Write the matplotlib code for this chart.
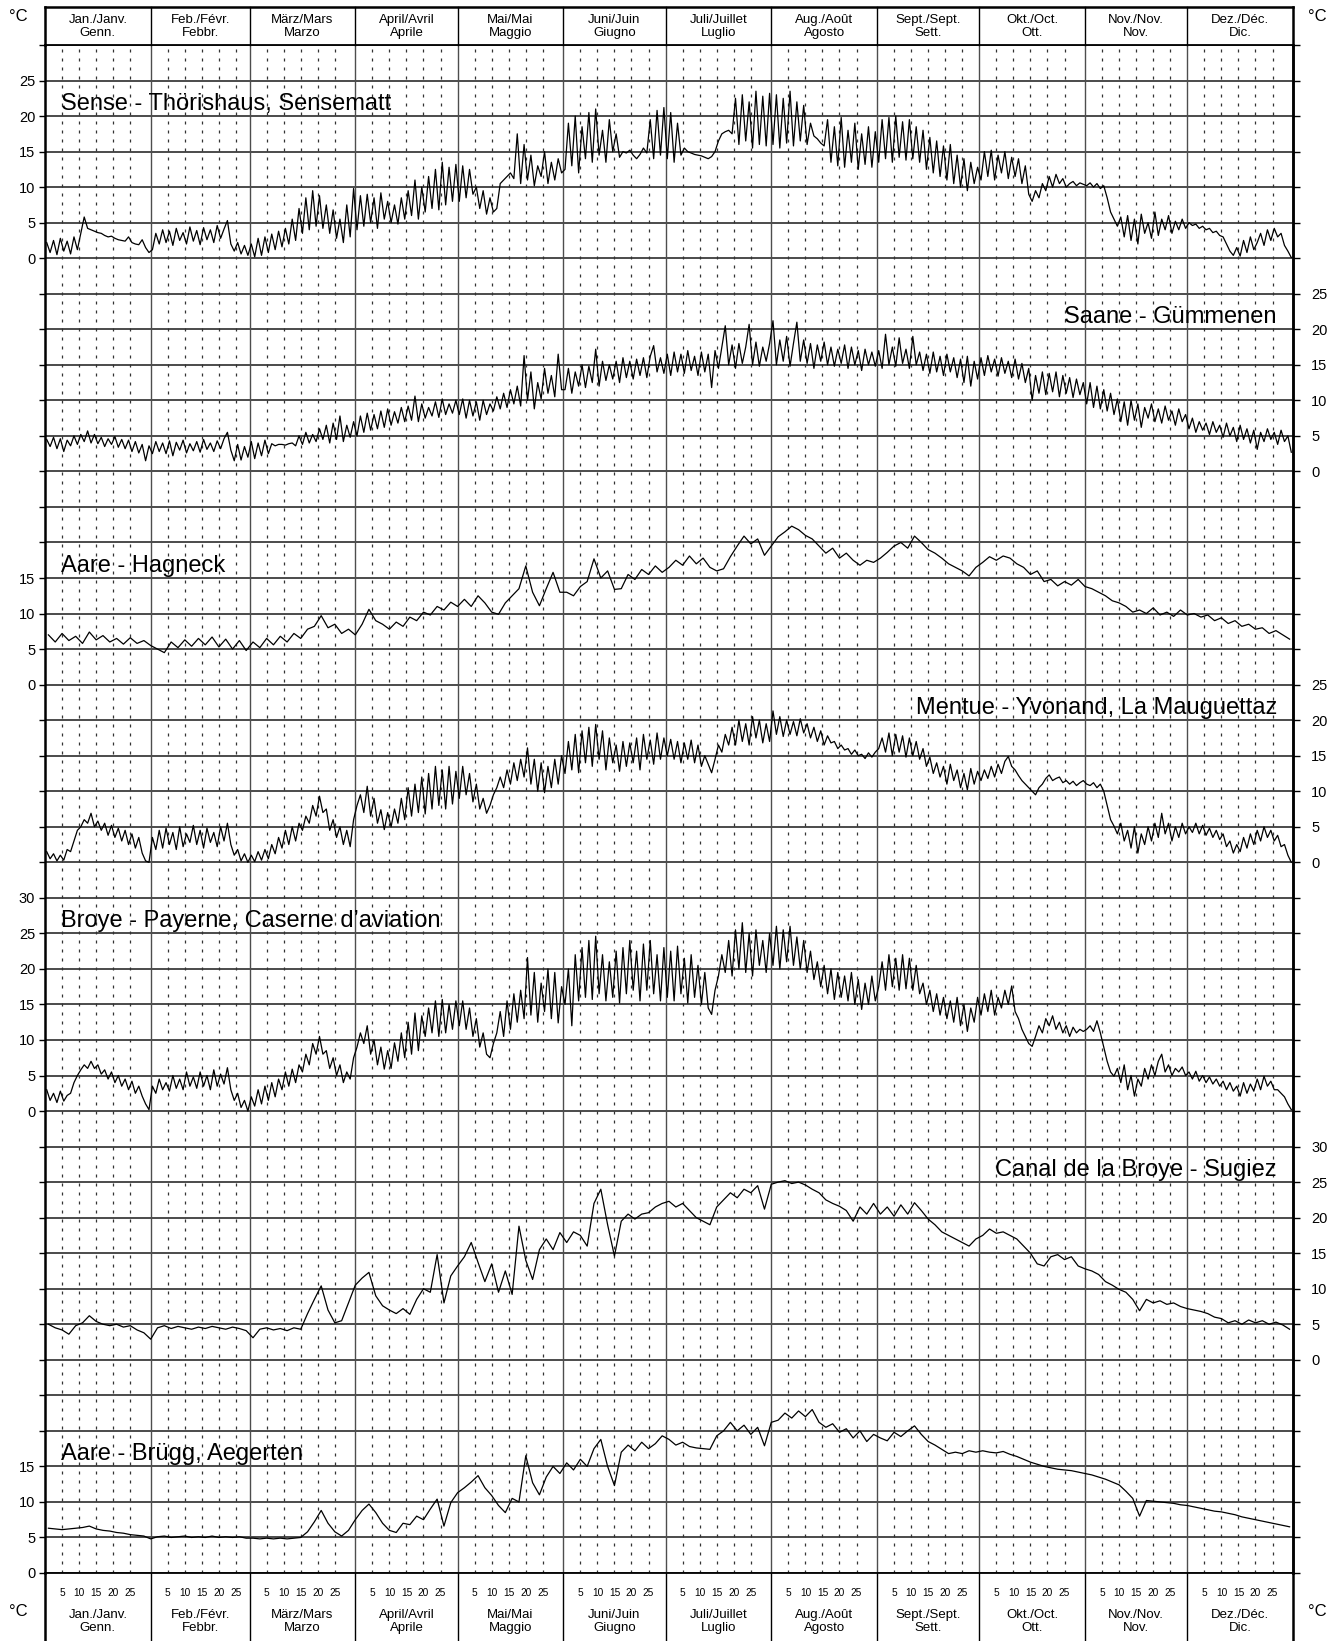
import numpy as np
import matplotlib
matplotlib.use("Agg")
import matplotlib.pyplot as plt
import matplotlib.transforms as mtransforms

plt.rcParams['font.family'] = ['Liberation Sans', 'DejaVu Sans']

# Monate (Schaltjahr)
month_days = [31, 29, 31, 30, 31, 30, 31, 31, 30, 31, 30, 31]
month_labels = ["Jan./Janv.\nGenn.", "Feb./Févr.\nFebbr.", "März/Mars\nMarzo",
                "April/Avril\nAprile", "Mai/Mai\nMaggio", "Juni/Juin\nGiugno",
                "Juli/Juillet\nLuglio", "Aug./Août\nAgosto", "Sept./Sept.\nSett.",
                "Okt./Oct.\nOtt.", "Nov./Nov.\nNov.", "Dez./Déc.\nDic."]
day_ticks = [5, 10, 15, 20, 25]

# Tageswerte (abwechselnd Tief/Hoch), 1 Wert pro Tag
sense = [
    2.2, 0.8, 2.5, 0.5, 2.8, 1.0, 2.4, 0.6, 3.0, 1.2, 3.5,
    5.8, 4.2, 4.0, 3.8, 3.6, 3.5, 3.2, 3.0, 3.1, 2.8, 2.6, 2.5, 2.4, 3.0, 2.2, 2.0, 1.9, 2.6, 1.5, 0.8,
    1.2, 3.5, 2.0, 4.0, 2.2, 3.8, 1.8, 4.2, 2.5, 3.6, 2.0, 4.4, 2.4, 3.9, 1.9,
    4.3, 2.6, 4.0, 2.2, 4.6, 2.8, 4.1, 5.3, 2.0, 1.0, 2.2, 0.6, 1.8, 0.4,
    2.0, 0.2, 2.8, 0.4, 3.0, 0.8, 3.4, 1.2, 3.8, 1.6, 4.2, 2.0, 5.5, 2.5, 7.0, 3.5,
    8.5, 4.0, 9.5, 4.5, 8.8, 4.2, 7.5, 3.5, 6.8, 2.8, 5.5, 2.2, 7.5, 3.0, 9.8,
    4.0, 8.8, 4.5, 9.0, 5.0, 8.5, 4.2, 9.2, 5.5, 8.0, 5.0, 7.5, 4.8, 8.5, 5.5,
    9.5, 6.0, 11.0, 5.5, 10.0, 6.5, 11.5, 7.0, 12.5, 6.8, 13.5, 7.5, 12.8, 8.0, 13.2,
    8.0, 13.0, 8.5, 12.5, 9.0, 10.0, 7.0, 9.5, 6.2, 8.5, 6.5, 7.0, 10.5, 11.0, 11.5, 12.0,
    11.2, 17.5, 10.5, 16.0, 11.0, 14.5, 10.2, 13.0, 11.5, 15.0, 10.5, 13.5, 11.0, 14.0, 12.0,
    12.5, 19.0, 13.0, 20.0, 12.0, 18.5, 14.0, 20.5, 13.5, 21.0, 14.5, 18.0, 13.5, 19.5, 15.0,
    17.5, 14.2, 15.0, 14.8, 15.2, 14.5, 14.0, 14.6, 15.5, 14.8, 19.5, 14.0, 20.8, 14.5, 21.2,
    14.0, 20.5, 13.5, 19.0, 14.5, 15.5, 15.0, 14.8, 14.6, 14.5, 14.4, 14.2, 14.0, 14.3, 15.0, 16.5,
    17.5, 17.8, 18.0, 17.5, 22.5, 16.0, 23.0, 16.5, 22.0, 15.5, 23.5, 16.0, 22.8, 15.8, 23.2,
    16.0, 23.0, 15.5, 22.5, 16.2, 23.5, 15.8, 22.0, 16.5, 21.5, 16.0, 19.0, 17.2, 16.8, 16.2, 15.8,
    19.5, 13.5, 18.5, 13.0, 19.8, 12.8, 18.0, 13.5, 19.0, 12.5, 17.5, 13.2, 18.5, 12.8, 17.8,
    13.5, 19.5, 14.0, 19.8, 13.5, 20.0, 14.2, 19.2, 13.8, 19.5, 14.0, 18.5, 13.5, 18.0, 12.5,
    17.0, 12.0, 16.5, 11.5, 15.8, 11.0, 16.0, 10.5, 14.5, 10.0, 14.0, 9.5, 13.5, 10.5, 12.8,
    11.0, 15.0, 11.5, 15.2, 11.0, 14.5, 12.0, 15.0, 11.2, 14.2, 11.5, 14.0, 10.5, 13.0, 9.0, 8.0,
    9.5, 8.5, 10.5, 9.5, 11.5, 10.0, 11.8, 10.5, 11.2, 10.0, 10.5, 10.8, 10.2, 10.6, 10.4,
    10.2, 10.6, 10.0, 10.5, 9.8, 10.2, 8.5, 6.5, 5.5, 4.5, 5.8, 3.0, 6.0, 2.5, 5.5,
    2.0, 6.2, 3.5, 5.0, 2.8, 6.5, 3.2, 5.5, 4.0, 6.0, 3.5, 5.2, 4.0, 5.5, 4.2,
    5.0, 4.6, 4.8, 4.2, 4.5, 4.0, 4.2, 3.6, 3.8, 3.2, 3.0, 2.0, 1.0, 0.4, 1.5, 0.3,
    2.5, 0.8, 3.0, 1.2, 2.2, 3.5, 1.8, 4.0, 2.5, 4.2, 3.0, 3.5, 1.8, 1.0, 0.1,
]

saane = [
    4.5, 3.5, 4.8, 3.2, 4.6, 2.8, 4.4, 3.6, 5.0, 3.8, 5.2, 4.2, 5.7, 4.0, 5.2, 3.9,
    4.8, 3.5, 4.6, 3.8, 4.9, 3.4, 4.5, 3.2, 4.4, 2.8, 4.2, 2.6, 3.8, 1.5, 3.6,
    2.5, 4.2, 2.8, 4.0, 2.5, 4.3, 2.2, 4.1, 3.0, 4.4, 2.6, 3.9, 2.9, 4.2, 2.7,
    4.5, 3.1, 4.0, 2.8, 4.3, 3.2, 4.6, 5.5, 3.0, 1.5, 3.8, 1.6, 3.5, 2.0,
    4.2, 1.8, 4.0, 2.2, 4.4, 2.5, 3.9, 3.6, 3.8, 3.8, 3.7, 3.9, 4.0, 3.6, 5.0, 3.8,
    5.5, 4.0, 5.2, 4.2, 6.0, 4.5, 6.5, 4.0, 6.8, 4.5, 7.8, 4.2, 6.5, 4.8, 7.0,
    5.0, 7.8, 5.5, 8.2, 5.8, 8.0, 6.0, 8.5, 6.2, 8.8, 6.5, 8.4, 6.8, 9.0, 7.0,
    9.2, 7.2, 10.6, 7.0, 9.5, 7.5, 9.0, 7.8, 9.8, 7.6, 10.2, 8.0, 9.5, 8.2, 10.0,
    8.0, 10.2, 7.5, 10.0, 7.8, 9.8, 7.2, 10.0, 8.0, 9.5, 8.5, 10.5, 8.8, 11.0, 9.0, 11.5,
    9.5, 12.0, 9.2, 16.3, 10.0, 14.0, 8.8, 12.5, 10.2, 14.5, 11.0, 13.5, 10.5, 16.5, 11.5,
    11.5, 14.5, 11.0, 14.0, 12.0, 15.0, 11.8, 14.8, 12.5, 17.2, 12.0, 15.5, 12.8, 15.0, 13.0,
    15.5, 12.5, 16.0, 13.2, 15.5, 13.0, 15.8, 13.5, 16.0, 13.2, 16.2, 17.7, 14.0, 16.0, 13.8,
    16.5, 13.5, 16.8, 14.0, 16.5, 13.8, 17.0, 14.2, 16.2, 13.5, 16.8, 14.0, 16.5, 11.8, 17.0, 14.5,
    17.5, 20.5, 15.0, 17.8, 14.5, 18.0, 15.2, 17.5, 20.7, 15.0, 18.2, 14.8, 17.5, 15.5, 18.0,
    21.2, 15.0, 18.5, 15.5, 19.0, 14.8, 18.0, 21.0, 15.5, 18.5, 15.2, 18.0, 14.5, 17.8, 15.5, 18.2,
    15.0, 17.5, 14.8, 17.2, 15.2, 17.8, 14.5, 17.5, 15.0, 17.0, 14.2, 17.2, 15.0, 16.8, 14.8,
    17.0, 14.5, 19.3, 15.0, 17.5, 14.8, 18.8, 15.2, 17.2, 14.5, 19.0, 15.0, 16.8, 14.2, 16.5,
    13.8, 16.8, 14.0, 16.2, 13.5, 16.5, 14.0, 16.0, 13.2, 15.8, 12.5, 16.2, 12.0, 15.5, 13.0,
    16.0, 13.5, 16.3, 14.0, 15.8, 13.4, 16.0, 13.8, 15.5, 13.2, 15.8, 13.0, 15.2, 12.5, 14.5, 10.0,
    13.5, 11.0, 14.0, 10.8, 13.8, 11.2, 14.0, 10.5, 13.5, 11.0, 13.2, 10.4, 13.0, 10.8, 12.5,
    9.5, 12.5, 9.0, 12.0, 8.8, 11.5, 8.5, 11.0, 8.0, 10.2, 7.0, 9.8, 6.5, 10.0, 7.2,
    9.5, 6.2, 9.0, 7.5, 9.5, 7.0, 8.8, 6.8, 9.2, 7.2, 8.5, 6.5, 8.8, 7.0, 8.0,
    6.0, 7.5, 5.5, 7.0, 5.8, 6.8, 5.2, 7.0, 5.5, 6.5, 4.8, 6.8, 5.0, 6.2, 4.2, 6.5,
    4.5, 6.0, 4.0, 5.8, 3.1, 5.5, 4.2, 6.0, 4.5, 5.5, 3.8, 5.8, 4.2, 5.0, 2.7,
]

mentue = [
    1.5, 0.5, 1.2, 0.2, 1.0, 0.3, 1.8, 1.5, 3.0, 4.5, 5.0, 6.0, 5.5, 6.9, 5.0, 5.8,
    4.5, 5.5, 3.8, 5.2, 3.5, 4.8, 3.0, 4.5, 2.5, 4.0, 2.0, 3.5, 1.3, 0.2, 0.0,
    3.5, 1.8, 4.5, 2.0, 4.8, 2.5, 4.2, 1.8, 5.0, 2.2, 4.0, 2.8, 5.2, 2.5, 4.5,
    2.0, 4.8, 2.8, 4.2, 2.2, 5.0, 3.0, 5.5, 2.5, 1.0, 1.8, 0.2, 1.2, 0.0,
    1.0, 0.1, 1.5, 0.3, 1.8, 0.5, 2.5, 1.2, 3.5, 2.0, 4.5, 2.5, 5.0, 3.0, 5.5, 4.5,
    6.5, 5.5, 8.0, 6.5, 9.3, 7.0, 7.5, 4.5, 6.0, 3.5, 5.0, 2.5, 4.5, 2.2, 6.0,
    8.0, 9.5, 7.0, 10.7, 6.5, 9.0, 5.5, 7.4, 4.6, 7.0, 5.0, 7.5, 5.5, 9.0, 6.0,
    10.5, 6.5, 11.0, 7.0, 12.0, 6.8, 12.5, 7.5, 13.5, 8.0, 13.0, 7.5, 13.5, 8.2, 12.8,
    9.0, 13.5, 9.5, 12.5, 8.5, 11.0, 7.5, 9.0, 6.9, 8.0, 9.5, 10.5, 12.0, 10.5, 13.0, 11.0,
    14.0, 11.5, 14.5, 12.0, 16.1, 11.0, 14.5, 10.0, 14.0, 9.8, 13.5, 10.5, 14.5, 11.0, 15.0,
    12.5, 17.0, 13.0, 18.0, 12.6, 18.5, 14.0, 19.0, 13.5, 19.4, 14.5, 18.5, 13.0, 17.5, 14.0,
    16.5, 12.8, 17.0, 13.5, 16.8, 14.0, 17.5, 13.0, 18.0, 14.5, 17.2, 13.8, 18.2, 14.5, 17.5,
    15.0, 17.3, 14.5, 17.0, 14.0, 16.8, 14.5, 17.2, 14.0, 16.5, 13.5, 15.0, 13.8, 12.6, 14.5, 16.5,
    15.5, 18.0, 16.5, 19.0, 16.5, 20.0, 17.0, 19.5, 16.5, 20.5, 17.5, 20.0, 16.8, 19.5, 17.0,
    21.3, 18.0, 20.5, 17.7, 20.0, 18.0, 19.8, 17.8, 20.2, 18.2, 19.5, 17.5, 19.0, 17.0, 18.5, 16.5,
    17.8, 16.8, 17.0, 16.0, 16.5, 15.8, 16.0, 15.2, 15.8, 15.0, 15.2, 14.6, 15.4, 14.8, 15.5,
    16.0, 17.5, 15.5, 18.2, 15.0, 18.0, 15.5, 17.8, 14.8, 17.5, 15.0, 17.0, 14.5, 16.0, 13.5,
    14.8, 12.5, 14.0, 12.0, 13.5, 11.0, 13.8, 11.5, 13.0, 10.5, 12.5, 10.2, 13.2, 11.0, 12.8,
    11.5, 13.0, 11.8, 13.5, 12.0, 13.8, 12.5, 14.2, 14.9, 13.5, 13.0, 12.2, 11.5, 11.0, 10.5, 10.0,
    9.5, 10.5, 11.0, 11.8, 12.3, 11.5, 11.8, 12.0, 11.2, 11.5, 11.0, 11.4, 10.8, 11.2, 11.5,
    11.0, 10.8, 11.2, 10.5, 11.0, 10.0, 8.0, 6.0, 5.1, 4.0, 5.5, 3.0, 4.5, 2.0, 5.0,
    1.3, 4.0, 2.5, 5.0, 3.0, 5.5, 3.5, 6.9, 4.0, 5.5, 3.0, 5.0, 3.5, 5.5, 4.0,
    5.0, 4.2, 5.5, 4.0, 5.2, 3.8, 4.8, 3.5, 4.5, 3.2, 4.0, 2.2, 3.0, 1.3, 2.5, 1.5,
    3.5, 2.0, 4.0, 2.5, 4.5, 3.0, 5.0, 3.5, 4.5, 3.0, 3.8, 2.2, 2.5, 1.0, 0.0,
]

broye = [
    3.0, 1.5, 2.5, 1.2, 2.8, 1.4, 2.2, 2.5, 4.0, 5.0, 5.8, 6.5, 6.0, 7.0, 6.0, 6.5,
    5.2, 5.8, 4.5, 5.5, 4.0, 5.0, 3.5, 4.5, 3.0, 4.2, 2.5, 3.5, 2.1, 1.0, 0.2,
    3.5, 2.5, 4.5, 3.0, 4.0, 2.8, 5.0, 3.2, 4.5, 3.0, 5.5, 3.5, 4.8, 3.2, 5.5,
    3.5, 5.0, 3.0, 5.8, 3.5, 5.2, 3.8, 6.1, 3.0, 1.5, 2.5, 0.5, 1.5, 0.0,
    2.0, 0.7, 3.0, 1.0, 3.5, 1.5, 4.0, 2.0, 4.5, 3.0, 5.5, 3.5, 5.9, 4.0, 6.5, 5.5,
    8.0, 6.5, 9.5, 8.0, 10.5, 8.0, 8.5, 6.0, 7.5, 5.0, 6.5, 4.0, 5.5, 4.5, 7.5,
    9.0, 11.0, 9.5, 12.0, 8.0, 10.0, 6.5, 9.0, 5.9, 8.5, 6.0, 9.6, 7.0, 11.0, 7.5,
    12.5, 8.0, 13.8, 8.5, 13.4, 10.5, 14.5, 11.0, 15.5, 10.5, 15.7, 11.0, 15.0, 11.5, 15.5,
    12.0, 15.5, 11.5, 14.5, 10.5, 13.0, 9.0, 11.0, 8.0, 7.5, 9.5, 11.0, 14.0, 10.5, 15.5, 11.5,
    16.5, 12.5, 17.0, 13.0, 21.6, 13.5, 19.5, 12.5, 18.0, 14.0, 20.0, 13.0, 19.5, 12.4, 17.5,
    15.0, 20.0, 12.0, 22.0, 15.5, 23.0, 16.0, 24.0, 15.7, 24.6, 16.5, 22.0, 15.5, 21.0, 16.0,
    22.5, 15.2, 23.0, 16.5, 24.0, 17.0, 22.5, 15.5, 23.5, 17.0, 24.0, 16.5, 22.0, 15.5, 23.0,
    16.0, 22.5, 15.5, 23.2, 16.5, 21.5, 15.2, 22.0, 16.0, 20.5, 15.0, 19.5, 14.5, 13.6, 17.0, 19.0,
    22.0, 19.5, 24.0, 19.0, 25.5, 20.0, 26.5, 19.5, 25.0, 19.0, 25.5, 20.5, 24.0, 19.5, 25.0,
    20.5, 26.0, 20.0, 25.5, 21.0, 26.0, 20.5, 24.5, 20.0, 24.0, 19.5, 22.5, 18.5, 21.0, 17.5, 20.5,
    16.5, 20.0, 15.7, 19.5, 16.0, 19.0, 15.5, 19.5, 15.0, 18.5, 14.3, 18.0, 15.0, 19.0, 15.5,
    17.5, 21.0, 17.0, 22.0, 17.5, 21.5, 17.0, 22.0, 17.2, 21.5, 17.0, 20.5, 16.5, 18.0, 15.0,
    17.0, 14.0, 16.5, 13.5, 16.0, 13.0, 15.5, 12.5, 16.0, 12.0, 15.0, 11.2, 14.5, 12.5, 16.0,
    13.5, 16.5, 14.0, 17.0, 13.5, 16.0, 14.5, 17.0, 15.0, 17.6, 14.0, 13.0, 11.5, 10.5, 9.5, 9.1,
    10.5, 12.0, 11.0, 13.0, 12.0, 13.4, 11.5, 12.5, 11.0, 12.0, 10.5, 11.8, 11.0, 11.5, 11.2,
    11.5, 12.0, 11.2, 12.7, 11.0, 9.0, 7.0, 5.5, 4.9, 6.0, 4.0, 6.5, 3.0, 5.0, 2.1,
    4.5, 3.5, 6.0, 4.5, 6.5, 5.0, 7.0, 8.0, 5.5, 6.5, 5.0, 6.0, 5.5, 6.2, 5.0,
    5.5, 4.5, 5.6, 4.2, 5.0, 4.0, 4.8, 3.8, 4.5, 3.5, 4.2, 3.0, 4.0, 2.8, 3.5, 2.1,
    4.0, 2.5, 3.8, 2.8, 4.5, 3.0, 4.9, 3.5, 4.2, 3.0, 3.0, 2.5, 2.0, 1.0, 0.2,
]

# 1 Wert alle 2 Tage
aare_hagneck = [
    7.0, 6.0, 7.2, 6.2, 6.8, 5.8, 7.4, 6.3, 6.9, 6.0, 6.5, 5.7, 6.6, 5.8, 6.2, 5.5,
    5.0, 4.5, 6.0, 5.2, 6.3, 5.4, 6.5, 5.6, 6.7, 5.3, 6.4, 5.0, 6.2, 4.8,
    6.0, 5.2, 6.5, 5.6, 6.8, 6.0, 7.2, 6.5, 7.8, 8.2, 9.7, 8.0, 8.5, 7.2, 7.8, 7.0,
    8.5, 10.6, 9.0, 8.5, 7.8, 8.8, 8.2, 9.5, 9.0, 10.2, 9.8, 11.0, 10.5, 11.6, 11.0,
    12.0, 11.0, 12.5, 11.5, 10.2, 9.9, 11.5, 12.5, 13.5, 16.7, 13.0, 11.1, 13.5, 15.8, 13.0,
    13.0, 12.5, 13.8, 14.5, 17.7, 15.0, 16.0, 13.4, 13.5, 15.5, 14.8, 16.2, 15.5, 16.7, 15.8,
    16.5, 17.5, 16.8, 18.1, 17.0, 17.8, 16.5, 16.0, 16.3, 18.0, 19.5, 20.9, 19.8, 20.5, 18.2, 19.5,
    20.8, 21.5, 22.3, 21.8, 21.0, 20.5, 19.5, 18.5, 19.2, 17.8, 18.5, 17.5, 16.8, 17.5, 17.2,
    17.8, 18.6, 19.5, 20.0, 19.2, 20.9, 20.0, 19.0, 18.5, 17.8, 17.0, 16.5, 16.0, 15.3, 16.5,
    17.2, 18.0, 17.5, 18.1, 17.8, 17.0, 16.5, 15.5, 16.0, 14.5, 14.8, 13.9, 14.5, 14.0, 14.8, 13.8,
    13.5, 13.0, 12.5, 11.8, 11.5, 11.0, 10.2, 10.5, 10.0, 10.8, 9.8, 10.2, 9.6, 10.5, 9.8,
    10.0, 9.5, 9.8, 9.0, 9.4, 8.6, 9.0, 8.2, 8.5, 7.8, 8.0, 7.2, 7.6, 7.0, 6.4,
]

canal_broye = [
    5.0, 4.5, 4.2, 3.6, 4.8, 5.2, 6.2, 5.4, 5.0, 4.8, 5.0, 4.6, 4.8, 4.2, 3.8, 2.9,
    4.5, 4.8, 4.4, 4.7, 4.5, 4.3, 4.6, 4.4, 4.7, 4.5, 4.3, 4.6, 4.4, 4.1,
    3.1, 4.3, 4.5, 4.2, 4.4, 4.1, 4.5, 4.3, 6.5, 8.5, 10.4, 7.0, 5.2, 5.5, 8.0, 10.5,
    11.5, 12.3, 9.0, 7.6, 7.0, 6.5, 7.2, 6.4, 8.5, 10.0, 9.5, 14.8, 8.0, 11.8, 13.2,
    14.5, 16.5, 13.7, 11.0, 13.5, 9.5, 12.5, 9.2, 18.8, 14.0, 11.3, 15.5, 17.0, 15.5, 17.9,
    16.5, 18.0, 17.5, 16.0, 22.0, 24.0, 19.0, 14.6, 19.5, 20.5, 19.8, 20.5, 20.7, 21.5, 22.0,
    22.3, 21.5, 22.0, 21.0, 20.0, 19.5, 19.0, 21.5, 22.5, 23.5, 22.8, 24.0, 23.5, 24.5, 21.2, 24.7,
    25.0, 25.2, 24.8, 25.0, 24.6, 24.0, 23.5, 22.5, 22.0, 21.6, 21.0, 19.5, 21.5, 20.5, 22.0,
    20.5, 21.5, 20.2, 21.8, 20.5, 22.1, 21.0, 19.8, 19.0, 18.0, 17.5, 17.0, 16.5, 16.0, 17.0,
    17.5, 18.4, 17.8, 18.0, 17.5, 17.0, 16.0, 15.0, 13.5, 13.2, 14.5, 14.8, 14.1, 14.5, 13.2, 12.8,
    12.5, 12.0, 11.0, 10.5, 9.9, 9.5, 8.5, 6.9, 8.5, 8.0, 8.3, 7.8, 8.0, 7.5, 7.2,
    7.0, 6.8, 6.5, 6.0, 5.8, 5.2, 5.5, 5.0, 5.6, 5.2, 5.5, 5.0, 5.3, 4.9, 4.3,
]

aare_bruegg = [
    6.3, 6.2, 6.1, 6.2, 6.3, 6.4, 6.6, 6.2, 6.0, 5.9, 5.7, 5.6, 5.4, 5.3, 5.2, 4.8,
    5.1, 5.2, 5.0, 5.1, 5.2, 5.0, 5.1, 5.0, 5.2, 5.0, 5.1, 5.0, 5.1, 4.9,
    4.9, 4.8, 4.9, 4.8, 4.9, 4.8, 4.9, 5.0, 5.8, 7.2, 8.8, 7.0, 5.8, 5.2, 6.0, 7.5,
    8.8, 9.7, 8.5, 7.0, 6.0, 5.7, 7.0, 6.8, 8.0, 7.5, 9.0, 10.4, 6.6, 9.9, 11.3,
    12.0, 12.8, 13.7, 12.0, 10.9, 9.5, 8.5, 10.5, 10.0, 16.5, 12.7, 11.0, 13.5, 15.0, 14.0,
    15.5, 14.5, 16.0, 15.0, 17.5, 18.8, 15.0, 12.3, 17.0, 18.0, 17.2, 18.4, 17.5, 18.2, 19.3,
    18.8, 18.0, 18.4, 17.8, 17.6, 17.5, 17.4, 19.3, 20.0, 21.2, 20.0, 20.8, 19.5, 20.5, 17.9, 21.2,
    21.5, 22.5, 21.8, 22.8, 22.0, 23.0, 21.2, 20.5, 21.0, 19.8, 20.3, 19.0, 20.0, 18.5, 19.5,
    19.0, 18.6, 19.8, 19.2, 20.0, 20.7, 19.5, 18.5, 18.0, 17.4, 16.8, 17.0, 16.8, 17.2, 17.0,
    17.2, 17.0, 16.9, 17.1, 16.7, 16.4, 16.0, 15.6, 15.3, 15.0, 14.8, 14.6, 14.5, 14.4, 14.2, 14.0,
    13.8, 13.5, 13.2, 12.8, 12.4, 11.5, 10.5, 8.0, 10.2, 10.1, 10.0, 9.9, 9.8, 9.6, 9.5,
    9.3, 9.1, 8.9, 8.7, 8.6, 8.4, 8.2, 7.9, 7.7, 7.5, 7.3, 7.1, 6.9, 6.7, 6.5,
]

# Stationen: Titel, Daten, Tage pro Wert, Nullpunkt im Gitter, Skala-Seite, Skala-Max, Titelzeile
stations = [
    ("Sense - Thörishaus, Sensematt", sense, 1, 185, "left", 25, 22.5),
    ("Saane - Gümmenen", saane, 1, 155, "right", 25, 22.5),
    ("Aare - Hagneck", aare_hagneck, 2, 125, "left", 15, 17.5),
    ("Mentue - Yvonand, La Mauguettaz", mentue, 1, 100, "right", 25, 22.5),
    ("Broye - Payerne, Caserne d\u2019aviation", broye, 1, 65, "left", 30, 27.5),
    ("Canal de la Broye - Sugiez", canal_broye, 2, 30, "right", 30, 27.5),
    ("Aare - Brügg, Aegerten", aare_bruegg, 2, 0, "left", 15, 17.5),
]

total_days = sum(month_days)
y_top = 215
month_start = np.concatenate([[0], np.cumsum(month_days)])

fig = plt.figure(figsize=(13.44, 16.41), dpi=100)
ax = fig.add_axes([45 / 1344, 68 / 1641, 1248 / 1344, 1528 / 1641])
ax.set_xlim(0, total_days)
ax.set_ylim(0, y_top)

# Gitter
for v in range(0, y_top + 1, 5):
    ax.axhline(v, color="0.1", lw=1.1, zorder=1)
for b in month_start[1:-1]:
    ax.axvline(b, color="0.3", lw=1.0, zorder=1)
for s, n in zip(month_start[:-1], month_days):
    for d in day_ticks:
        ax.axvline(s + d, color="0.2", lw=0.9, ls=(0, (2.4, 4.8)), zorder=1)

# Kurven
for name, vals, step, off, side, vmax, title_y in stations:
    x = np.arange(len(vals)) * step + 0.5 * step
    ax.plot(x, np.array(vals) + off, color="black", lw=0.9, zorder=3)
    tr = mtransforms.blended_transform_factory(ax.transAxes, ax.transData)
    if side == "left":
        ax.text(0.013, off + title_y - 1.6, name, transform=tr, ha="left",
                va="baseline", fontsize=17, zorder=2)
    else:
        ax.text(0.987, off + title_y - 1.6, name, transform=tr, ha="right",
                va="baseline", fontsize=17, zorder=2)

# Achsenbeschriftung links/rechts
ticks = list(range(0, y_top + 1, 5))
left_lab = {}
right_lab = {}
for name, vals, step, off, side, vmax, title_y in stations:
    for v in range(0, vmax + 1, 5):
        if side == "left":
            left_lab[off + v] = str(v)
        else:
            right_lab[off + v] = str(v)
ax.set_yticks(ticks, [left_lab.get(t, "") for t in ticks])
ax.tick_params(axis="y", length=4, width=1, pad=3, labelsize=10.5)
ax.set_xticks([])
sec = ax.secondary_yaxis("right")
sec.set_yticks(ticks, [right_lab.get(t, "") for t in ticks])
sec.tick_params(axis="y", length=5, width=1, pad=8, labelsize=10.5)
sec.spines["right"].set_linewidth(1.8)

for sp in ["left", "right"]:
    ax.spines[sp].set_linewidth(1.8)
for sp in ["top", "bottom"]:
    ax.spines[sp].set_linewidth(1.3)

# Kopf- und Fusszeile mit Monaten
trx = mtransforms.blended_transform_factory(ax.transData, ax.transAxes)
head_top = 1 + 38 / 1528
foot_bot = -68 / 1528
ax.plot([0, total_days], [head_top, head_top], color="black", lw=1.8,
        transform=trx, clip_on=False)
for i, b in enumerate(month_start):
    lw = 1.8 if i in (0, len(month_start) - 1) else 1.0
    ax.plot([b, b], [1, head_top], color="black", lw=lw, transform=trx, clip_on=False)
    ax.plot([b, b], [foot_bot, 0], color="black", lw=lw, transform=trx, clip_on=False)

for s, n, lab in zip(month_start[:-1], month_days, month_labels):
    ax.text(s + n / 2, 1.0121, lab, transform=trx, ha="center", va="center",
            fontsize=9.5, linespacing=1.15)
    ax.text(s + n / 2, -0.0318, lab, transform=trx, ha="center", va="center",
            fontsize=9.5, linespacing=1.15)
    for d in day_ticks:
        ax.text(s + d, -0.0131, str(d), transform=trx, ha="center", va="center",
                fontsize=7.3)

# Einheit
for xa, ya in [(-0.0216, 1.0185), (1.0196, 1.0185), (-0.0216, -0.0255), (1.0196, -0.0255)]:
    ax.text(xa, ya, "°C", transform=ax.transAxes, ha="center", va="center", fontsize=12)

fig.savefig("out.png", dpi=100)
